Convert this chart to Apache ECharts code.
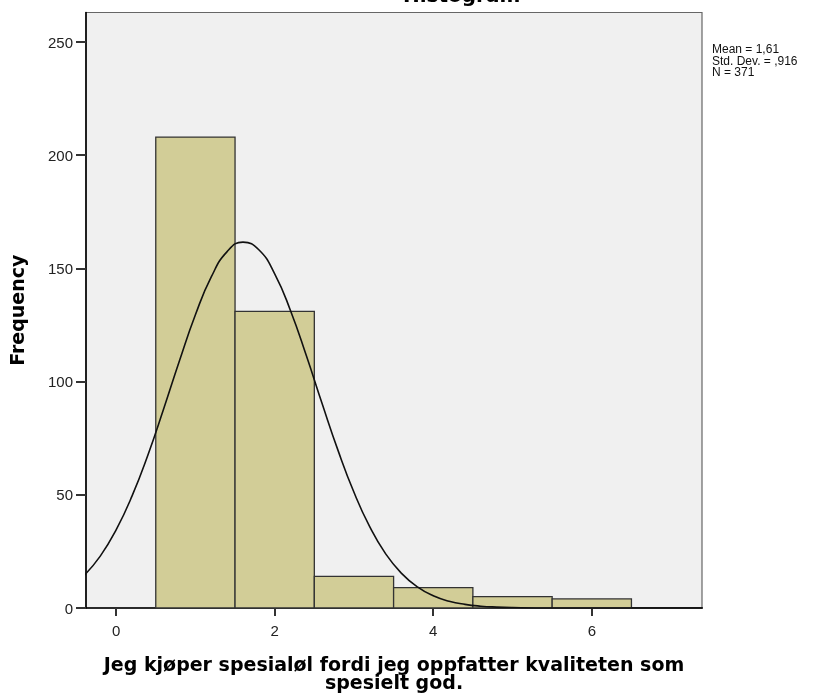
<!DOCTYPE html>
<html>
<head>
<meta charset="utf-8">
<script src="https://cdn.jsdelivr.net/npm/echarts@6/dist/echarts.min.js"></script>
<style>html,body{margin:0;padding:0;background:#fff}#c{width:834px;height:700px}</style>
</head>
<body>
<div id="c"></div>
<script>
// Histogram bins (centre value) and frequencies
const binCenters = [1, 2, 3, 4, 5, 6];
const frequencies = [208, 131, 14, 9, 5, 4];
// Normal curve values (x, frequency)
const curveX = [-0.4,-0.2,0,0.2,0.4,0.6,0.8,1.0,1.2,1.4,1.6,1.8,2.0,2.2,2.4,2.6,2.8,3.0,3.2,3.4,3.6,3.8,4.0,4.2,4.4,4.6,4.8,5.0,5.5,6.0,6.5,7.0,7.4];
const curveY = [14.5,22.9,34.5,49.4,67.5,88.0,109.3,129.5,146.2,157.4,161.6,158.2,147.6,131.3,111.4,90.1,69.5,51.1,35.8,23.9,15.3,9.3,5.4,3.0,1.6,0.8,0.4,0.2,0.02,0,0,0,0];
const xTicks = [0, 2, 4, 6];
const yTicks = [0, 50, 100, 150, 200, 250];
const statsLines = ['Mean = 1,61', 'Std. Dev. = ,916', 'N = 371'];
const titleText = 'Histogram';
const xTitle = 'Jeg kjøper spesialøl fordi jeg oppfatter kvaliteten som\nspesielt god.';
const yTitle = 'Frequency';

const chart = echarts.init(document.getElementById('c'), null, {renderer: 'canvas'});
const font = 'Liberation Sans, Arial, sans-serif';
const boldFont = 'DejaVu Sans, sans-serif';
chart.setOption({
  animation: false,
  backgroundColor: '#ffffff',
  grid: {left: 86, right: 132, top: 12.5, bottom: 92, show: true, backgroundColor: '#f0f0f0', borderColor: '#666', borderWidth: 1.2},
  xAxis: {
    type: 'value', min: -0.38, max: 7.39,
    splitLine: {show: false},
    axisLine: {show: true, onZero: false, lineStyle: {color: '#000', width: 1.6}},
    axisTick: {show: true, customValues: xTicks, length: 8, lineStyle: {color: '#333', width: 2}},
    axisLabel: {customValues: xTicks, color: '#222', fontSize: 15, fontFamily: font, margin: 16},
    name: xTitle, nameLocation: 'middle', nameGap: 49,
    nameTextStyle: {fontSize: 19, fontWeight: 'bold', fontFamily: boldFont, color: '#000', lineHeight: 18}
  },
  yAxis: {
    type: 'value', min: 0, max: 263,
    splitLine: {show: false},
    axisLine: {show: true, onZero: false, lineStyle: {color: '#000', width: 1.6}},
    axisTick: {show: true, customValues: yTicks, length: 10, lineStyle: {color: '#333', width: 2}},
    axisLabel: {customValues: yTicks, color: '#222', fontSize: 15, fontFamily: font, margin: 13, verticalAlign: 'top', padding: [-6, 0, 0, 0]},
    name: yTitle, nameLocation: 'middle', nameGap: 57,
    nameTextStyle: {fontSize: 19, fontWeight: 'bold', fontFamily: boldFont, color: '#000'}
  },
  series: [
    {
      type: 'custom',
      data: binCenters.map((c, i) => [c, frequencies[i]]),
      renderItem: function (params, api) {
        const c = api.value(0), v = api.value(1);
        const p1 = api.coord([c - 0.5, v]);
        const p2 = api.coord([c + 0.5, 0]);
        return {
          type: 'rect',
          shape: {x: p1[0], y: p1[1], width: p2[0] - p1[0], height: p2[1] - p1[1]},
          style: {fill: '#d2cd97', stroke: '#333', lineWidth: 1.3}
        };
      },
      z: 2
    },
    {
      type: 'line',
      data: curveX.map((x, i) => [x, curveY[i]]),
      smooth: true, showSymbol: false,
      lineStyle: {color: '#111', width: 1.6},
      z: 3
    }
  ],
  graphic: [
    {type: 'text', left: 403, top: -13, style: {text: titleText, fontSize: 20, fontWeight: 'bold', fontFamily: boldFont, fill: '#000'}},
    {type: 'text', left: 712, top: 44, style: {text: statsLines.join('\n'), fontSize: 12, lineHeight: 11.5, fontFamily: font, fill: '#111'}}
  ]
});
</script>
</body>
</html>
